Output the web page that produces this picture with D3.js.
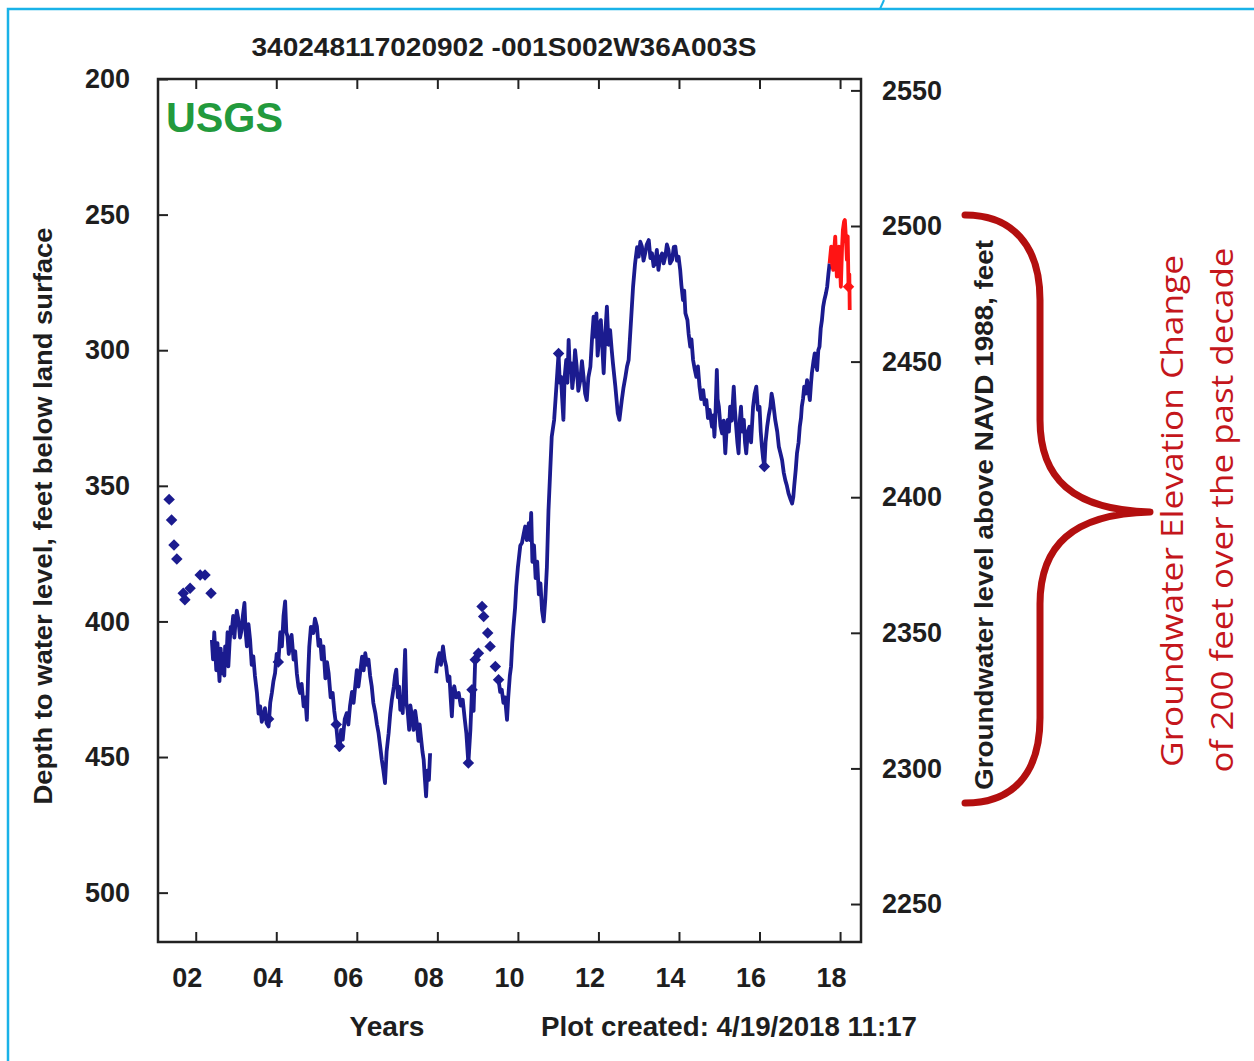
<!DOCTYPE html>
<html>
<head>
<meta charset="utf-8">
<script src="https://cdn.jsdelivr.net/npm/d3@7"></script>
<style>
  body { margin: 0; background: #fff; }
  svg { display: block; }
</style>
</head>
<body>
<div id="chart"></div>
<script>
var titleText = "340248117020902 -001S002W36A003S";

var xTickYears = [2002, 2004, 2006, 2008, 2010, 2012, 2014, 2016, 2018];
var xTickLabels = ["02", "04", "06", "08", "10", "12", "14", "16", "18"];
var depthTicks = [200, 250, 300, 350, 400, 450, 500];
var elevTicks = [2250, 2300, 2350, 2400, 2450, 2500, 2550];
var landSurface = 2754.2;   // elevation = landSurface - depth

// blue continuous record (null = break in record)
var blueYears = [
  2002.40,2002.43,2002.46,2002.48,2002.51,2002.54,2002.56,2002.59,2002.62,2002.65,
  2002.68,2002.71,2002.73,2002.76,2002.79,2002.81,2002.84,2002.87,2002.89,2002.93,
  2002.96,2002.98,2003.02,2003.06,2003.10,2003.14,2003.17,2003.21,2003.24,2003.27,
  2003.31,2003.35,2003.39,2003.43,2003.47,2003.52,2003.56,2003.60,2003.64,2003.68,
  2003.72,2003.76,2003.81,2003.85,2003.89,2003.93,2003.97,2004.01,2004.05,2004.10,
  2004.14,2004.18,2004.22,2004.25,2004.28,2004.31,2004.34,2004.38,2004.43,2004.47,
  2004.51,2004.55,2004.59,2004.63,2004.68,2004.72,2004.76,2004.79,2004.82,2004.86,
  2004.92,2004.96,2005.01,2005.05,2005.09,2005.13,2005.17,2005.22,2005.26,2005.30,
  2005.35,2005.40,2005.44,2005.49,2005.53,2005.57,2005.61,2005.65,2005.70,2005.75,
  2005.79,2005.83,2005.88,2005.92,2005.96,2006.00,2006.04,2006.08,2006.13,2006.17,
  2006.21,2006.25,2006.29,2006.33,2006.37,2006.41,2006.46,2006.50,2006.54,2006.58,
  2006.62,2006.66,2006.70,2006.74,2006.79,2006.83,2006.87,2006.92,2006.95,2006.98,
  2007.02,2007.05,2007.08,2007.11,2007.14,2007.17,2007.20,2007.23,2007.26,2007.30,
  2007.33,2007.37,2007.41,2007.45,2007.49,2007.53,2007.56,2007.59,2007.63,2007.66,
  2007.69,2007.72,2007.75,2007.79,2007.82,2007.84,
  2007.97,2008.01,2008.05,2008.09,2008.14,2008.18,2008.22,2008.26,2008.30,2008.33,
  2008.36,2008.39,2008.42,2008.47,2008.53,2008.58,2008.63,2008.68,2008.72,2008.77,
  2008.82,2008.86,2008.90,2008.94,2009.02,2009.05,
  2009.52,2009.56,2009.60,2009.64,2009.68,2009.73,2009.76,2009.80,2009.83,2009.86,
  2009.89,2009.93,2009.96,2010.00,2010.02,2010.06,2010.10,2010.14,2010.18,2010.22,
  2010.27,2010.30,2010.33,2010.36,2010.40,2010.44,2010.48,2010.52,2010.56,2010.60,
  2010.64,2010.68,2010.72,2010.76,2010.80,2010.84,2010.90,2010.95,2011.01,2011.04,
  2011.07,2011.10,2011.13,2011.16,2011.20,2011.23,2011.26,2011.29,2011.32,2011.35,
  2011.38,2011.42,2011.46,2011.50,2011.55,2011.59,2011.63,2011.67,2011.71,2011.75,
  2011.80,2011.84,2011.88,2011.92,2011.95,2011.98,2012.00,2012.03,2012.06,2012.10,
  2012.13,2012.17,2012.21,2012.25,2012.29,2012.33,2012.36,2012.42,2012.48,2012.52,
  2012.58,2012.62,2012.67,2012.71,2012.75,2012.81,2012.86,2012.91,2012.96,2013.00,
  2013.04,2013.08,2013.12,2013.16,2013.20,2013.25,2013.29,2013.33,2013.37,2013.41,
  2013.45,2013.49,2013.53,2013.58,2013.62,2013.66,2013.70,2013.74,2013.78,2013.83,
  2013.87,2013.91,2013.95,2013.99,2014.03,2014.06,2014.10,2014.13,2014.16,2014.21,
  2014.24,2014.28,2014.31,2014.35,2014.39,2014.43,2014.47,2014.51,2014.55,2014.60,
  2014.64,2014.68,2014.72,2014.76,2014.82,2014.85,2014.88,2014.91,2014.94,2014.96,
  2014.99,2015.03,2015.07,2015.11,2015.15,2015.18,2015.21,2015.24,2015.27,2015.31,
  2015.36,2015.39,2015.42,2015.45,2015.48,2015.51,2015.54,2015.57,2015.61,2015.64,
  2015.67,2015.71,2015.75,2015.79,2015.84,2015.88,2015.92,2015.96,2016.00,2016.03,
  2016.06,2016.09,2016.12,2016.15,2016.19,2016.23,2016.27,2016.30,2016.33,2016.36,
  2016.39,2016.44,2016.48,2016.52,2016.56,2016.60,2016.64,2016.68,2016.72,2016.77,
  2016.81,2016.84,2016.86,2016.90,2016.93,2016.97,2017.00,2017.03,2017.05,2017.08,
  2017.11,2017.15,2017.18,2017.21,2017.25,2017.28,2017.30,2017.34,2017.37,2017.40,
  2017.43,2017.46,2017.49,2017.52,2017.55,2017.58,2017.61,2017.65,2017.68,2017.71,
  2017.74
];
var blueDepths = [
  406.8,414,404,409.2,418,408,414.2,422,410,419.1,
  412,420,409.2,415,404,416.6,408,402,404.3,398,
  406,401.9,396,399.4,406,403.1,398,393.2,404,409.2,
  401,406.8,416,412.9,420,426.4,434,431.3,437,435.0,
  432,437.5,438.7,430,426.4,422,419.1,412,415.4,404,
  409.2,398,392.6,404,405.5,412,409.2,405,414.1,411,
  419.1,424,426.4,423,431.3,428,436.3,420,409.2,402,
  404.3,399,401.9,409,406.8,414,409.2,421,415,419.1,
  428,426.4,433,438.7,445,447.3,440,443.6,436,433.8,
  438,431.3,426,430,423.9,418,424,419.1,413,418,
  411.7,416,414.1,420,423.9,430,433.8,438,441.2,446,
  451.0,455,459.6,448,441.2,434,428.9,424,420,417.8,
  428,424,432.6,428,433.8,422,410.5,430,432.6,440,
  431,435.0,440,433,437.5,444,438,442.4,448,451.0,
  458,464.5,455,458.4,448.6,null,
  419.1,414,411.7,416,409.2,414,416.6,422,420.3,428,
  435.0,426,423.9,428,426.4,431,428.9,436,441.2,452.2,
  440,425.2,433,414.1,411.7,null,
  421.5,426,425.2,430,428,436.3,428,420,416.6,408,
  401.9,395,387.1,380,377.3,372,371.1,368,365.0,370,
  363.8,370,360,378,372,384,378,390,386,396,
  400,392,380,358.9,345.4,331.9,325.7,314.7,301.2,312,
  309.8,318,325.7,310,303.6,312,296.2,308,304.8,314,
  309.8,300,306.1,315,311.0,304,309.8,316,318.4,310,
  306.1,296,287.6,295,286.4,302,298.7,290,288.9,300,
  308.5,294,283.9,298,292.6,300,304.8,313.4,323.3,325.7,
  318.4,314,309.8,306,303.6,288.9,276.6,268.0,262,265.5,
  260,261.8,267,264.3,261,259.4,266,264.3,269,268.0,
  263,270.4,266,264.3,268,265.5,261,263.1,268,266.7,
  262,261.8,267,265.5,270.4,276,281.5,278,286.4,288.9,
  294,298.7,296,303.6,307,309.8,306,313.4,318,314.7,
  320,318.4,325,322.0,328.2,324,331.9,322,307.3,318,
  320.8,328,330.6,326,338.0,330,325.7,330,320.8,326,
  313.4,322,328.2,334,338.0,326,320.8,330,325.7,334,
  338.0,330,328.2,334,320.8,316,313.4,322,320.8,330,
  335.6,340,342.9,334,328.2,324,320.8,316,318.4,322,
  325.7,330,335.6,338,340.5,345,347.9,350,352.8,355,
  356.5,354,350.3,344,338.0,334,328.2,325,320.8,318,
  313.4,316,311.0,314,318.4,312,308.5,304,301.2,305,
  307.3,300,298.7,292,288.9,284,281.5,279,276.6,272,
  268.0
];

// red provisional record at the end
var redYears = [
  2017.74,2017.78,2017.80,2017.83,2017.86,2017.88,2017.90,2017.92,2017.95,2017.97,
  2018.00,2018.02,2018.05,2018.07,2018.10,2018.12,2018.15,2018.17,2018.19,2018.21,
  2018.23,2018.24
];
var redDepths = [
  268.0,261.8,268,270.4,262,258.1,266,272.9,266,261.8,
  270,276.6,262,255.7,252.5,252.0,260,266.7,258,276.6,
  272,285.2
];

// discrete measurements drawn as diamonds
var diamondYears = [
  2001.34,2001.40,2001.46,2001.53,2001.69,2001.73,2001.86,2002.11,2002.23,2002.38,
  2003.81,2004.05,2005.49,2005.57,2008.77,2008.86,2008.94,2009.02,2009.11,2009.15,
  2009.25,2009.31,2009.44,2009.52,2011.01,2016.12
];
var diamondDepths = [
  355,362.6,371.8,377,389.6,392,387.8,382.9,382.9,389.6,
  436,415,438,446,452.2,425.2,414.1,411.7,394.5,398.2,
  404.3,409.2,416.6,421.5,301.2,342.9
];
var redDiamondYears = [2018.21];
var redDiamondDepths = [276.6];

// ---- layout ----
var W = 1254, H = 1061;
var plot = {left: 158, right: 861, top: 79, bottom: 942};
var textCol = "#1e1e1e";
var blue = "#1b1b8f", red = "#ff1414", brace = "#b30f0f";

var svg = d3.select("#chart").append("svg")
  .attr("width", W)
  .attr("height", H)
  .style("background", "#fff");

// cyan frame around the slide image
svg.append("rect")
  .attr("x", 8).attr("y", 9)
  .attr("width", W + 20).attr("height", H + 20)
  .attr("fill", "none")
  .attr("stroke", "#19b2e8")
  .attr("stroke-width", 2.5);
svg.append("line")
  .attr("x1", 884).attr("y1", 0).attr("x2", 880).attr("y2", 9)
  .attr("stroke", "#19b2e8").attr("stroke-width", 2);

var x = d3.scaleLinear().domain([2001.063, 2018.52]).range([plot.left, plot.right]);
var yL = d3.scaleLinear().domain([200, 518.2]).range([plot.top, plot.bottom]);
var yR = d3.scaleLinear().domain([landSurface - 200, landSurface - 518.2]).range([plot.top, plot.bottom]);

// axes (ticks point into the plot)
var gB = svg.append("g")
  .attr("transform", "translate(0," + plot.bottom + ")")
  .call(d3.axisBottom(x).tickValues(xTickYears)
    .tickFormat(function(d, i) { return xTickLabels[i]; })
    .tickSizeInner(-10).tickSizeOuter(0).tickPadding(26));
gB.selectAll("text").attr("dx", -9);

var gT = svg.append("g")
  .attr("transform", "translate(0," + plot.top + ")")
  .call(d3.axisTop(x).tickValues(xTickYears).tickFormat("")
    .tickSizeInner(-10).tickSizeOuter(0));

var gL = svg.append("g")
  .attr("transform", "translate(" + plot.left + ",0)")
  .call(d3.axisLeft(yL).tickValues(depthTicks).tickFormat(d3.format("d"))
    .tickSizeInner(-10).tickSizeOuter(0).tickPadding(28));

var gR = svg.append("g")
  .attr("transform", "translate(" + plot.right + ",0)")
  .call(d3.axisRight(yR).tickValues(elevTicks).tickFormat(d3.format("d"))
    .tickSizeInner(-10).tickSizeOuter(0).tickPadding(21));

[gB, gT, gL, gR].forEach(function(g) {
  g.select(".domain").remove();
  g.selectAll(".tick line").attr("stroke", "#222").attr("stroke-width", 2);
  g.selectAll("text")
    .attr("fill", textCol)
    .style("font-family", "'Liberation Sans', Arial, sans-serif")
    .style("font-weight", "bold")
    .style("font-size", "27px");
});

// plot frame
svg.append("rect")
  .attr("x", plot.left).attr("y", plot.top)
  .attr("width", plot.right - plot.left)
  .attr("height", plot.bottom - plot.top)
  .attr("fill", "none")
  .attr("stroke", "#222")
  .attr("stroke-width", 2.5);

// data
var blueData = blueYears.map(function(d, i) { return {year: d, depth: blueDepths[i]}; });
var redData = redYears.map(function(d, i) { return {year: d, depth: redDepths[i]}; });

var line = d3.line()
  .defined(function(d) { return d.depth != null; })
  .x(function(d) { return x(d.year); })
  .y(function(d) { return yL(d.depth); });

svg.append("path")
  .datum(blueData)
  .attr("d", line)
  .attr("fill", "none")
  .attr("stroke", blue)
  .attr("stroke-width", 3.8)
  .attr("stroke-linejoin", "round");

svg.append("path")
  .datum(redData)
  .attr("d", line)
  .attr("fill", "none")
  .attr("stroke", red)
  .attr("stroke-width", 3.8)
  .attr("stroke-linejoin", "round");

var diamond = d3.symbol().type(d3.symbolSquare).size(66);

svg.selectAll(".dia")
  .data(diamondYears.map(function(d, i) { return {year: d, depth: diamondDepths[i]}; }))
  .enter().append("path")
  .attr("class", "dia")
  .attr("d", diamond)
  .attr("transform", function(d) { return "translate(" + x(d.year) + "," + yL(d.depth) + ") rotate(45)"; })
  .attr("fill", blue);

svg.selectAll(".rdia")
  .data(redDiamondYears.map(function(d, i) { return {year: d, depth: redDiamondDepths[i]}; }))
  .enter().append("path")
  .attr("class", "rdia")
  .attr("d", diamond)
  .attr("transform", function(d) { return "translate(" + x(d.year) + "," + yL(d.depth) + ") rotate(45)"; })
  .attr("fill", red);

// texts
var sans = "'Liberation Sans', Arial, sans-serif";

svg.append("text")
  .attr("x", 504).attr("y", 56)
  .attr("text-anchor", "middle")
  .attr("textLength", 505).attr("lengthAdjust", "spacingAndGlyphs")
  .style("font-family", sans).style("font-weight", "bold").style("font-size", "25px")
  .attr("fill", textCol)
  .text(titleText);

svg.append("text")
  .attr("x", 166).attr("y", 132)
  .attr("textLength", 117).attr("lengthAdjust", "spacingAndGlyphs")
  .style("font-family", sans).style("font-weight", "bold").style("font-size", "43px")
  .attr("fill", "#229a3c")
  .text("USGS");

svg.append("text")
  .attr("transform", "translate(52,516) rotate(-90)")
  .attr("text-anchor", "middle")
  .attr("textLength", 577).attr("lengthAdjust", "spacingAndGlyphs")
  .style("font-family", sans).style("font-weight", "bold").style("font-size", "25px")
  .attr("fill", textCol)
  .text("Depth to water level, feet below land surface");

svg.append("text")
  .attr("transform", "translate(993,515) rotate(-90)")
  .attr("text-anchor", "middle")
  .attr("textLength", 550).attr("lengthAdjust", "spacingAndGlyphs")
  .style("font-family", sans).style("font-weight", "bold").style("font-size", "25px")
  .attr("fill", textCol)
  .text("Groundwater level above NAVD 1988, feet");

svg.append("text")
  .attr("x", 387).attr("y", 1036)
  .attr("text-anchor", "middle")
  .attr("textLength", 75).attr("lengthAdjust", "spacingAndGlyphs")
  .style("font-family", sans).style("font-weight", "bold").style("font-size", "27px")
  .attr("fill", textCol)
  .text("Years");

svg.append("text")
  .attr("x", 729).attr("y", 1036)
  .attr("text-anchor", "middle")
  .attr("textLength", 376).attr("lengthAdjust", "spacingAndGlyphs")
  .style("font-family", sans).style("font-weight", "bold").style("font-size", "27px")
  .attr("fill", textCol)
  .text("Plot created: 4/19/2018 11:17");

// red curly brace + annotation
var bp = d3.path();
bp.moveTo(965, 215);
bp.bezierCurveTo(1012, 215, 1040, 245, 1040, 300);
bp.lineTo(1040, 420);
bp.bezierCurveTo(1040, 478, 1072, 510, 1150, 512);
bp.moveTo(1150, 512);
bp.bezierCurveTo(1072, 514, 1040, 546, 1040, 604);
bp.lineTo(1040, 718);
bp.bezierCurveTo(1040, 775, 1012, 803, 965, 803);
svg.append("path")
  .attr("d", bp.toString())
  .attr("fill", "none")
  .attr("stroke", brace)
  .attr("stroke-width", 7)
  .attr("stroke-linecap", "round");

var noteFont = "'Open Sans', 'Noto Sans', sans-serif";
svg.append("text")
  .attr("transform", "translate(1183,511) rotate(-90)")
  .attr("text-anchor", "middle")
  .attr("textLength", 512).attr("lengthAdjust", "spacingAndGlyphs")
  .style("font-family", noteFont).style("font-size", "31px")
  .attr("fill", "#c4161c")
  .text("Groundwater Elevation Change");

svg.append("text")
  .attr("transform", "translate(1233,510) rotate(-90)")
  .attr("text-anchor", "middle")
  .attr("textLength", 525).attr("lengthAdjust", "spacingAndGlyphs")
  .style("font-family", noteFont).style("font-size", "31px")
  .attr("fill", "#c4161c")
  .text("of 200 feet over the past decade");
</script>
</body>
</html>
